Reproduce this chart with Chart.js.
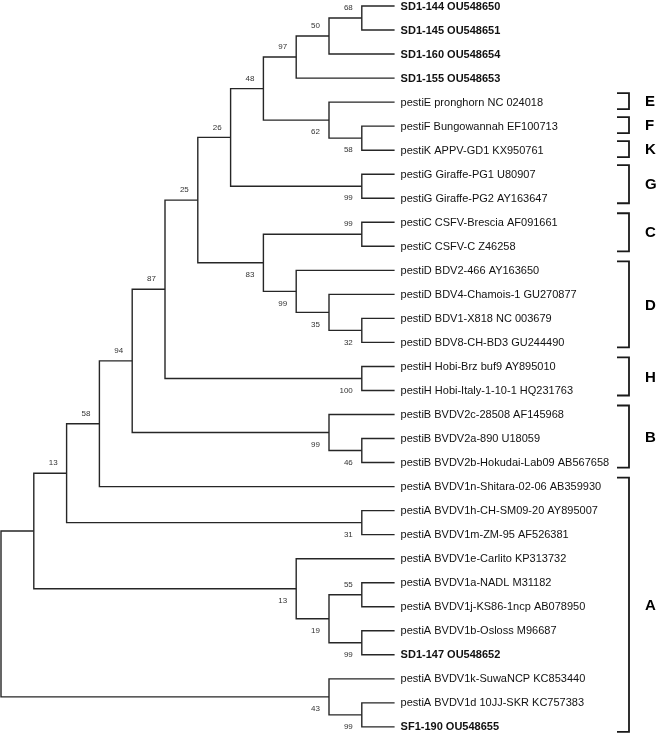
<!DOCTYPE html>
<html>
<head>
<meta charset="utf-8">
<title>Pestivirus tree</title>
<script src="https://cdn.jsdelivr.net/npm/chart.js@4.4.1/dist/chart.umd.min.js"></script>
<style>
  html, body { margin: 0; padding: 0; background: #fff; }
  #wrap { width: 662px; height: 734px; }
</style>
</head>
<body>
<div id="wrap"><canvas id="tree" width="662" height="734"></canvas></div>
<script>
// leaves, top to bottom
const leafNames = [
  "SD1-144 OU548650", "SD1-145 OU548651", "SD1-160 OU548654", "SD1-155 OU548653",
  "pestiE pronghorn NC 024018", "pestiF Bungowannah EF100713", "pestiK APPV-GD1 KX950761",
  "pestiG Giraffe-PG1 U80907", "pestiG Giraffe-PG2 AY163647",
  "pestiC CSFV-Brescia AF091661", "pestiC CSFV-C Z46258",
  "pestiD BDV2-466 AY163650", "pestiD BDV4-Chamois-1 GU270877",
  "pestiD BDV1-X818 NC 003679", "pestiD BDV8-CH-BD3 GU244490",
  "pestiH Hobi-Brz buf9 AY895010", "pestiH Hobi-Italy-1-10-1 HQ231763",
  "pestiB BVDV2c-28508 AF145968", "pestiB BVDV2a-890 U18059",
  "pestiB BVDV2b-Hokudai-Lab09 AB567658",
  "pestiA BVDV1n-Shitara-02-06 AB359930", "pestiA BVDV1h-CH-SM09-20 AY895007",
  "pestiA BVDV1m-ZM-95 AF526381", "pestiA BVDV1e-Carlito KP313732",
  "pestiA BVDV1a-NADL M31182", "pestiA BVDV1j-KS86-1ncp AB078950",
  "pestiA BVDV1b-Osloss M96687", "SD1-147 OU548652",
  "pestiA BVDV1k-SuwaNCP KC853440", "pestiA BVDV1d 10JJ-SKR KC757383",
  "SF1-190 OU548655"
];

// isolates from this study (printed bold)
const newIsolates = [0, 1, 2, 3, 27, 30];

// internal nodes: [id, upper child, lower child, bootstrap]
// a child is a leaf index or a node id
const nodes = [
  ["n1", 0, 1, 68],
  ["n2", "n1", 2, 50],
  ["n3", "n2", 3, 97],
  ["n4", 5, 6, 58],
  ["n5", 4, "n4", 62],
  ["n6", "n3", "n5", 48],
  ["n7", 7, 8, 99],
  ["n8", "n6", "n7", 26],
  ["n9", 9, 10, 99],
  ["n10", 13, 14, 32],
  ["n11", 12, "n10", 35],
  ["n12", 11, "n11", 99],
  ["n13", "n9", "n12", 83],
  ["n14", "n8", "n13", 25],
  ["n15", 15, 16, 100],
  ["n16", "n14", "n15", 87],
  ["n17", 18, 19, 46],
  ["n18", 17, "n17", 99],
  ["n19", "n16", "n18", 94],
  ["n20", "n19", 20, 58],
  ["n21", 21, 22, 31],
  ["n22", "n20", "n21", 13],
  ["n23", 24, 25, 55],
  ["n24", 26, 27, 99],
  ["n25", "n23", "n24", 19],
  ["n26", 23, "n25", 13],
  ["n27", "n22", "n26", null],
  ["n28", 29, 30, 99],
  ["n29", 28, "n28", 43],
  ["root", "n27", "n29", null]
];

// species brackets on the right
const cladeLetters = ["E", "F", "K", "G", "C", "D", "H", "B", "A"];
const cladeFirst = [4, 5, 6, 7, 9, 11, 15, 17, 20];
const cladeLast = [4, 5, 6, 8, 10, 14, 16, 19, 30];

// ---- layout of the cladogram ----
const byId = {};
nodes.forEach(n => { byId[n[0]] = n; });

function heightOf(ref) {
  if (typeof ref === "number") return 0;
  const n = byId[ref];
  return 1 + Math.max(heightOf(n[1]), heightOf(n[2]));
}
function yOf(ref) {
  if (typeof ref === "number") return ref;
  const n = byId[ref];
  return (yOf(n[1]) + yOf(n[2])) / 2;
}
const maxH = heightOf("root");
const xOf = ref => maxH - heightOf(ref);

// pixel placement of the canvas scales
const W = 662, H = 734;
const ROOT_PX = 1, DEPTH_PX = 32.8;
const LEAF_TOP_PX = 6, LEAF_STEP_PX = 24.03;
const xMin = -ROOT_PX / DEPTH_PX, xMax = xMin + W / DEPTH_PX;
const yMin = -LEAF_TOP_PX / LEAF_STEP_PX, yMax = yMin + H / LEAF_STEP_PX;

const lineColor = "#262626";
const datasets = nodes.map(n => {
  const [id, a, b] = n;
  const px = xOf(id);
  return {
    data: [
      { x: xOf(a), y: yOf(a) },
      { x: px, y: yOf(a) },
      { x: px, y: yOf(b) },
      { x: xOf(b), y: yOf(b) }
    ],
    showLine: true,
    borderColor: lineColor,
    borderWidth: 1.4,
    pointRadius: 0,
    tension: 0,
    fill: false
  };
});

// which side of its parent each node hangs on
const isLower = {};
nodes.forEach(n => { isLower[n[1]] = false; isLower[n[2]] = true; });

const labelsPlugin = {
  id: "treeLabels",
  afterDatasetsDraw(chart) {
    const { ctx, scales: { x, y } } = chart;
    ctx.save();

    // leaf names
    ctx.textBaseline = "middle";
    ctx.textAlign = "left";
    ctx.fillStyle = "#111";
    const tipX = x.getPixelForValue(maxH);
    leafNames.forEach((name, i) => {
      const bold = newIsolates.includes(i);
      ctx.font = (bold ? "bold " : "") + "11px 'Liberation Sans', Arial, sans-serif";
      ctx.fillText(name, tipX + 6, y.getPixelForValue(i) + 0.5);
    });

    // bootstrap values
    ctx.font = "8px 'Liberation Sans', Arial, sans-serif";
    ctx.fillStyle = "#333";
    ctx.textAlign = "right";
    nodes.forEach(n => {
      if (n[3] == null) return;
      const nx = x.getPixelForValue(xOf(n[0]));
      const ny = y.getPixelForValue(yOf(n[0]));
      const dy = isLower[n[0]] ? 12 : -10;
      ctx.fillText(String(n[3]), nx - 9, ny + dy);
    });

    // brackets + species letters
    const barX = 629, stub = 12;
    ctx.strokeStyle = "#1a1a1a";
    ctx.lineWidth = 1.8;
    ctx.fillStyle = "#000";
    ctx.font = "bold 15px 'Liberation Sans', Arial, sans-serif";
    ctx.textAlign = "left";
    cladeLetters.forEach((letter, k) => {
      const single = cladeFirst[k] === cladeLast[k];
      const top = y.getPixelForValue(cladeFirst[k]) - 9;
      const bot = y.getPixelForValue(cladeLast[k]) + (single ? 7 : 5);
      ctx.beginPath();
      ctx.moveTo(barX - stub, top);
      ctx.lineTo(barX, top);
      ctx.lineTo(barX, bot);
      ctx.lineTo(barX - stub, bot);
      ctx.stroke();
      ctx.fillText(letter, 645, (top + bot) / 2 + 1);
    });

    ctx.restore();
  }
};

new Chart(document.getElementById("tree"), {
  type: "scatter",
  data: { datasets },
  options: {
    responsive: false,
    animation: false,
    layout: { padding: 0 },
    plugins: { legend: { display: false }, tooltip: { enabled: false } },
    scales: {
      x: { type: "linear", display: false, min: xMin, max: xMax },
      y: { type: "linear", display: false, reverse: true, min: yMin, max: yMax }
    }
  },
  plugins: [labelsPlugin]
});
</script>
</body>
</html>
